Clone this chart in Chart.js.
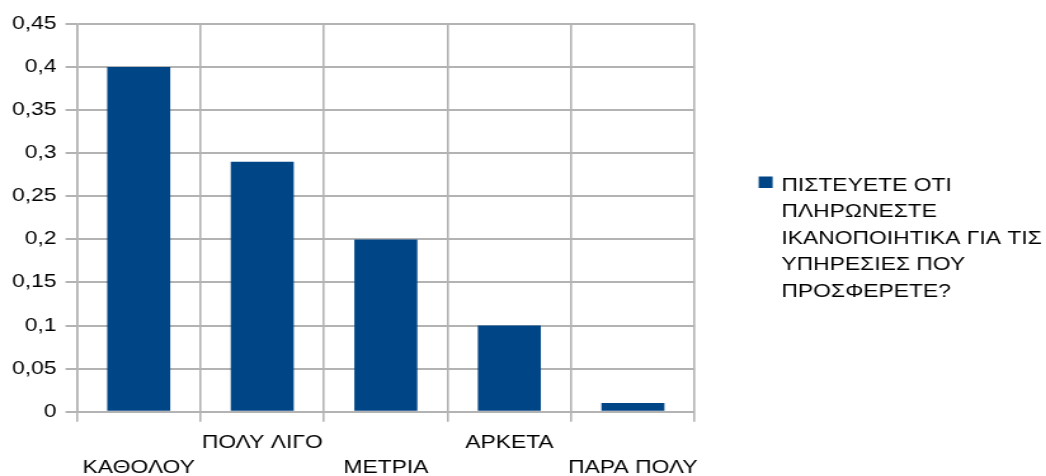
<!DOCTYPE html>
<html lang="el">
  <head>
    <meta charset="UTF-8" />
    <title>Πληρωμή υπηρεσιών</title>
    <script src="https://cdn.jsdelivr.net/npm/chart.js"></script>
    <style>
      body {
        margin: 0;
        background: #fff;
        overflow: hidden;
      }

      /* the chart is laid out narrow and stretched sideways */
      .wrap {
        width: 824px;
        height: 476px;
        transform: scaleX(1.2695);
        transform-origin: 0 0;
      }
    </style>
  </head>
  <body>
    <div class="wrap">
      <canvas id="chart" width="824" height="476"></canvas>
    </div>

    <script>
      const categories = ["ΚΑΘΟΛΟΥ", "ΠΟΛΥ ΛΙΓΟ", "ΜΕΤΡΙΑ", "ΑΡΚΕΤΑ", "ΠΑΡΑ ΠΟΛΥ"];
      const values = [0.4, 0.29, 0.2, 0.1, 0.01];
      const seriesLines = [
        "ΠΙΣΤΕΥΕΤΕ ΟΤΙ",
        "ΠΛΗΡΩΝΕΣΤΕ",
        "ΙΚΑΝΟΠΟΙΗΤΙΚΑ ΓΙΑ ΤΙΣ",
        "ΥΠΗΡΕΣΙΕΣ ΠΟΥ",
        "ΠΡΟΣΦΕΡΕΤΕ?",
      ];
      const yMax = 0.45;
      const yStep = 0.05;

      const barColor = "#004586";
      const gridColor = "#b3b3b3";
      const fontFamily = "'Liberation Sans', Arial, sans-serif";

      // legend box on the right, text wrapped over several lines
      const sideLegend = {
        id: "sideLegend",
        afterDraw(chart) {
          const ctx = chart.ctx;
          ctx.save();
          ctx.fillStyle = barColor;
          ctx.fillRect(597.6, 176.5, 11, 11.5);
          ctx.fillStyle = "#000";
          ctx.font = "18px " + fontFamily;
          ctx.textBaseline = "alphabetic";
          ctx.textAlign = "left";
          seriesLines.forEach((line, i) => {
            ctx.fillText(line, 615.5, 190.5 + i * 26.5);
          });
          ctx.restore();
        },
      };

      new Chart(document.getElementById("chart"), {
        type: "bar",
        data: {
          labels: categories,
          datasets: [
            {
              label: seriesLines.join(" "),
              data: values,
              backgroundColor: barColor,
              borderWidth: 0,
              barPercentage: 0.51,
              categoryPercentage: 1,
            },
          ],
        },
        options: {
          responsive: false,
          animation: false,
          layout: {
            padding: { top: 24, right: 276.8, bottom: 0, left: 0 },
          },
          plugins: {
            legend: { display: false },
            tooltip: { enabled: false },
          },
          scales: {
            x: {
              afterFit(scale) {
                scale.height = 64.3;
              },
              border: { color: gridColor, width: 1.6 },
              grid: {
                color: gridColor,
                lineWidth: 1.6,
                tickLength: 10,
                offset: true,
              },
              ticks: {
                color: "#000",
                font: { family: fontFamily, size: 18, lineHeight: 1.39 },
                padding: 9,
                maxRotation: 0,
                autoSkip: false,
                // alternate labels drop to a second row
                callback(value, index) {
                  const name = categories[index];
                  return index % 2 === 0 ? ["", name] : name;
                },
              },
            },
            y: {
              min: 0,
              max: yMax,
              afterFit(scale) {
                scale.width = 60.6;
              },
              border: { color: gridColor, width: 1.6 },
              grid: {
                color: gridColor,
                lineWidth: 2,
                tickLength: 9,
              },
              ticks: {
                stepSize: yStep,
                color: "#000",
                font: { family: fontFamily, size: 18 },
                padding: 7,
                callback(value) {
                  return String(Number(value.toFixed(2))).replace(".", ",");
                },
              },
            },
          },
        },
        plugins: [sideLegend],
      });
    </script>
  </body>
</html>
